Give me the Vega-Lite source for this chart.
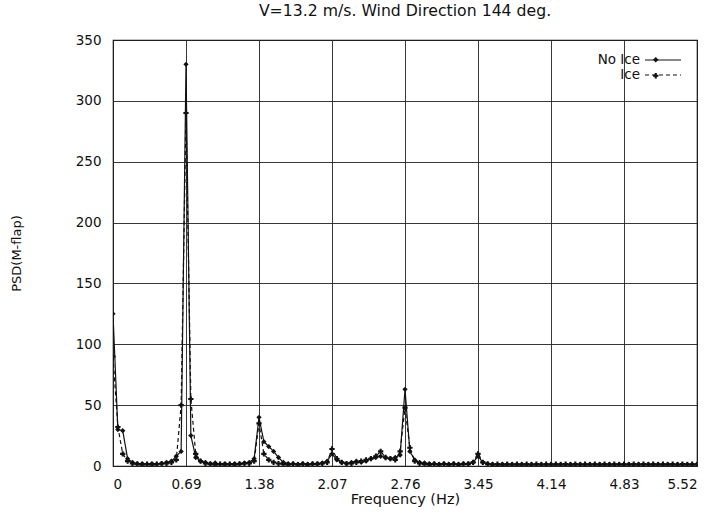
{
  "$schema": "https://vega.github.io/schema/vega-lite/v6.json",
  "width": 584,
  "height": 426,
  "autosize": {"type": "none"},
  "padding": {"left": 113, "top": 40, "right": 20, "bottom": 52},
  "background": "white",
  "title": {"text": "V=13.2 m/s. Wind Direction 144 deg.", "fontSize": 15.7, "fontWeight": "normal", "font": "DejaVu Sans", "color": "#111", "offset": 13},
  "config": {
    "view": {"stroke": "#111", "strokeWidth": 1.2},
    "axis": {"labelFont": "DejaVu Sans", "titleFont": "DejaVu Sans", "labelFontSize": 13.5, "titleFontSize": 14.5, "titleFontWeight": "normal", "labelColor": "#111", "titleColor": "#111", "gridColor": "#222", "gridOpacity": 1, "gridWidth": 0.9, "domain": false, "ticks": false},
    "legend": {"labelFont": "DejaVu Sans", "labelFontSize": 13.5, "labelColor": "#111", "padding": 0, "rowPadding": 1}
  },
  "data": {"values": [
    {"f":0,"noice":125,"ice":90},{"f":0.046,"noice":30,"ice":32},{"f":0.092,"noice":29,"ice":10},{"f":0.138,"noice":6,"ice":4},{"f":0.184,"noice":3,"ice":2},{"f":0.23,"noice":2,"ice":1.5},{"f":0.276,"noice":2,"ice":1},{"f":0.322,"noice":1.5,"ice":1.5},{"f":0.368,"noice":2,"ice":1},{"f":0.414,"noice":1.5,"ice":1.5},
    {"f":0.46,"noice":2,"ice":2},{"f":0.506,"noice":3,"ice":2},{"f":0.552,"noice":4,"ice":3},{"f":0.598,"noice":8,"ice":5},{"f":0.644,"noice":12,"ice":50},{"f":0.69,"noice":330,"ice":290},{"f":0.736,"noice":25,"ice":55},{"f":0.782,"noice":7,"ice":10},{"f":0.828,"noice":4,"ice":4},{"f":0.874,"noice":3,"ice":2},
    {"f":0.92,"noice":2,"ice":1.5},{"f":0.966,"noice":2.5,"ice":1},{"f":1.012,"noice":1.5,"ice":1.5},{"f":1.058,"noice":2,"ice":1},{"f":1.104,"noice":1.5,"ice":1.5},{"f":1.15,"noice":2,"ice":1},{"f":1.196,"noice":2,"ice":1.5},{"f":1.242,"noice":2.5,"ice":2},{"f":1.288,"noice":3,"ice":2},{"f":1.334,"noice":6,"ice":4},
    {"f":1.38,"noice":40,"ice":35},{"f":1.426,"noice":20,"ice":10},{"f":1.472,"noice":16,"ice":5},{"f":1.518,"noice":12,"ice":3},{"f":1.564,"noice":7,"ice":2},{"f":1.61,"noice":3,"ice":1.5},{"f":1.656,"noice":2,"ice":1},{"f":1.702,"noice":2,"ice":1.5},{"f":1.748,"noice":1.5,"ice":1},{"f":1.794,"noice":2,"ice":1.5},
    {"f":1.84,"noice":1.5,"ice":1},{"f":1.886,"noice":2,"ice":1.5},{"f":1.932,"noice":2,"ice":1.5},{"f":1.978,"noice":2.5,"ice":2},{"f":2.024,"noice":4,"ice":3},{"f":2.07,"noice":10,"ice":14},{"f":2.116,"noice":5,"ice":6},{"f":2.162,"noice":3,"ice":3},{"f":2.208,"noice":2,"ice":2},{"f":2.254,"noice":3,"ice":2},
    {"f":2.3,"noice":4,"ice":3},{"f":2.346,"noice":3,"ice":4},{"f":2.392,"noice":4,"ice":5},{"f":2.438,"noice":6,"ice":6},{"f":2.484,"noice":7,"ice":8},{"f":2.53,"noice":8,"ice":12},{"f":2.576,"noice":7,"ice":7},{"f":2.622,"noice":6,"ice":6},{"f":2.668,"noice":7,"ice":5},{"f":2.714,"noice":9,"ice":12},
    {"f":2.76,"noice":63,"ice":48},{"f":2.806,"noice":12,"ice":15},{"f":2.852,"noice":5,"ice":4},{"f":2.898,"noice":3,"ice":2},{"f":2.944,"noice":2.5,"ice":1.5},{"f":2.99,"noice":2,"ice":1},{"f":3.036,"noice":2,"ice":1.5},{"f":3.082,"noice":1.5,"ice":1},{"f":3.128,"noice":2,"ice":1.5},{"f":3.174,"noice":1.5,"ice":1},
    {"f":3.22,"noice":2,"ice":1.5},{"f":3.266,"noice":1.5,"ice":1},{"f":3.312,"noice":2,"ice":1.5},{"f":3.358,"noice":2,"ice":1.5},{"f":3.404,"noice":3,"ice":3},{"f":3.45,"noice":8,"ice":10},{"f":3.496,"noice":3,"ice":3},{"f":3.542,"noice":2,"ice":1.5},{"f":3.588,"noice":1.5,"ice":1},{"f":3.634,"noice":1,"ice":1.5},
    {"f":3.68,"noice":1.5,"ice":1},{"f":3.726,"noice":1,"ice":1.5},{"f":3.772,"noice":1.5,"ice":1},{"f":3.818,"noice":1,"ice":1.5},{"f":3.864,"noice":1.5,"ice":1},{"f":3.91,"noice":1,"ice":1.5},{"f":3.956,"noice":1.5,"ice":1},{"f":4.002,"noice":1,"ice":1.5},{"f":4.048,"noice":1.5,"ice":1},{"f":4.094,"noice":1,"ice":1.5},
    {"f":4.14,"noice":1.5,"ice":1},{"f":4.186,"noice":1,"ice":1.5},{"f":4.232,"noice":1.5,"ice":1},{"f":4.278,"noice":1,"ice":1.5},{"f":4.324,"noice":1.5,"ice":1},{"f":4.37,"noice":1,"ice":1.5},{"f":4.416,"noice":1.5,"ice":1},{"f":4.462,"noice":1,"ice":1.5},{"f":4.508,"noice":1.5,"ice":1},{"f":4.554,"noice":1,"ice":1.5},
    {"f":4.6,"noice":1.5,"ice":1},{"f":4.646,"noice":1,"ice":1.5},{"f":4.692,"noice":1.5,"ice":1},{"f":4.738,"noice":1,"ice":1.5},{"f":4.784,"noice":1.5,"ice":1},{"f":4.83,"noice":1,"ice":1.5},{"f":4.876,"noice":1.5,"ice":1},{"f":4.922,"noice":1,"ice":1.5},{"f":4.968,"noice":1.5,"ice":1},{"f":5.014,"noice":1,"ice":1.5},
    {"f":5.06,"noice":1.5,"ice":1},{"f":5.106,"noice":1,"ice":1.5},{"f":5.152,"noice":1.5,"ice":1},{"f":5.198,"noice":1,"ice":1.5},{"f":5.244,"noice":1.5,"ice":1},{"f":5.29,"noice":1,"ice":1.5},{"f":5.336,"noice":1.5,"ice":1},{"f":5.382,"noice":1,"ice":1.5},{"f":5.428,"noice":1.5,"ice":1},{"f":5.474,"noice":1,"ice":1.5},
    {"f":5.52,"noice":1.5,"ice":1}
  ]},
  "transform": [
    {"fold": ["noice", "ice"], "as": ["key", "psd"]},
    {"lookup": "key", "from": {"data": {"values": [{"key": "noice", "series": "No Ice", "marker": "NI"}, {"key": "ice", "series": "Ice", "marker": "I"}]}, "key": "key", "fields": ["series", "marker"]}}
  ],
  "encoding": {
    "x": {"field": "f", "type": "quantitative", "title": "Frequency (Hz)", "scale": {"domain": [0, 5.52], "nice": false, "zero": false},
      "axis": {"values": [0, 0.69, 1.38, 2.07, 2.76, 3.45, 4.14, 4.83, 5.52], "format": ".2~f", "labelPadding": 11, "titlePadding": 2}},
    "y": {"field": "psd", "type": "quantitative", "title": "PSD(M-flap)", "scale": {"domain": [0, 350], "nice": false},
      "axis": {"values": [0, 50, 100, 150, 200, 250, 300, 350], "labelPadding": 12, "titlePadding": 52, "titleFontSize": 13}}
  },
  "layer": [
    {
      "mark": {"type": "line", "color": "#111", "strokeWidth": 1.2, "clip": true},
      "encoding": {
        "strokeDash": {"field": "series", "type": "nominal", "title": null, "scale": {"domain": ["No Ice", "Ice"], "range": [[1, 0], [4, 3]]},
          "legend": {"orient": "none", "legendX": 543, "legendY": 13, "symbolType": "M-3,0H3", "symbolSize": 144, "symbolStrokeWidth": 1.2, "symbolStrokeColor": "#111", "symbolFillColor": "transparent", "labelAlign": "right", "labelOffset": -30}},
        "order": {"field": "f", "type": "quantitative"}
      }
    },
    {
      "mark": {"type": "point", "filled": true, "size": 28, "color": "#111", "opacity": 1, "clip": true},
      "encoding": {
        "shape": {"field": "marker", "type": "nominal", "title": null, "scale": {"domain": ["NI", "I"], "range": ["diamond", "cross"]},
          "legend": {"orient": "none", "legendX": 536, "legendY": 13, "symbolSize": 30, "symbolOpacity": 1, "symbolStrokeColor": "#111", "symbolFillColor": "#111", "labelExpr": "' '"}}
      }
    }
  ]
}
